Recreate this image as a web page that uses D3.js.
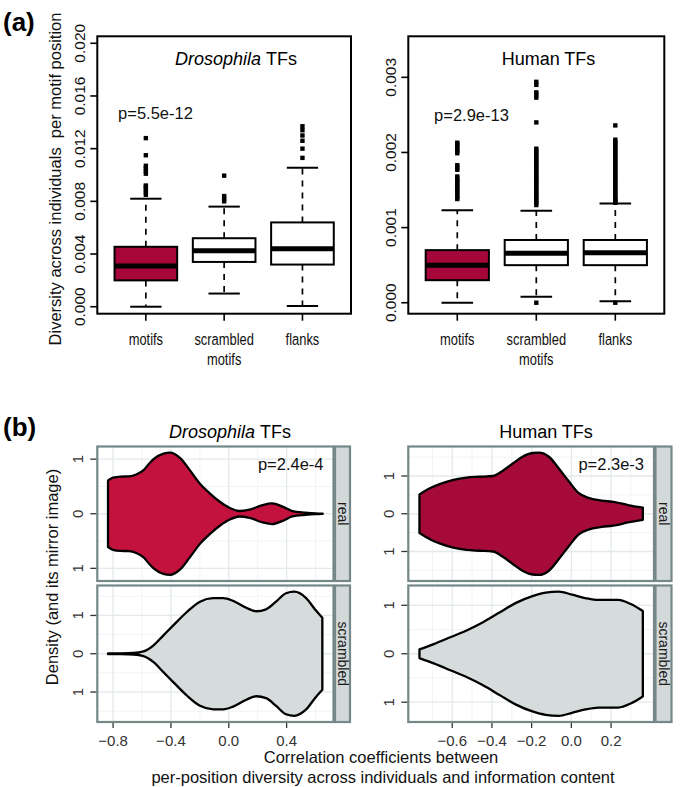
<!DOCTYPE html>
<html><head><meta charset="utf-8">
<script src="https://cdn.jsdelivr.net/npm/d3@7"></script>
<style>body{margin:0;background:#fff}</style>
</head><body>
<svg id="c" width="685" height="787"></svg>
<script>
// ---------------- DATA ----------------
// (a) boxplots
const boxCategories = [["motifs"], ["scrambled", "motifs"], ["flanks"]];
const drosYTicks = [0, 0.004, 0.008, 0.012, 0.016, 0.020];
const drosYTickLabels = ["0.000", "0.004", "0.008", "0.012", "0.016", "0.020"];
const humYTicks = [0, 0.001, 0.002, 0.003];
const humYTickLabels = ["0.000", "0.001", "0.002", "0.003"];

const drosLow = [0.0000, 0.0010, 0.00005];
const drosQ1 = [0.0020, 0.0034, 0.0032];
const drosMedian = [0.0031, 0.00425, 0.0044];
const drosQ3 = [0.00455, 0.0052, 0.0064];
const drosHigh = [0.0082, 0.0076, 0.01055];
const drosOutliers = [
  [0.0085, 0.0087, 0.0089, 0.0091, 0.0092, 0.0101, 0.0103, 0.0105, 0.0107, 0.0115, 0.0128],
  [0.0080, 0.0082, 0.0084, 0.00995],
  [0.0113, 0.0120, 0.0126, 0.0130, 0.0134, 0.0137]
];

const humLow = [0.0000, 0.00008, 0.00002];
const humQ1 = [0.00030, 0.00050, 0.00050];
const humMedian = [0.00050, 0.00066, 0.000665];
const humQ3 = [0.00070, 0.000835, 0.000835];
const humHigh = [0.00123, 0.001225, 0.00132];
const humOutliers = [
  [0.00138, 0.00141, 0.00144, 0.00147, 0.00150, 0.00153, 0.00156, 0.00159, 0.00162, 0.00165, 0.00168,
   0.00177, 0.00180, 0.00183, 0.00199, 0.00202, 0.00205, 0.00208, 0.00211, 0.00213],
  [0.00000, 0.00130, 0.00133, 0.00136, 0.00139, 0.00142, 0.00145, 0.00148, 0.00151, 0.00154, 0.00157,
   0.00160, 0.00163, 0.00166, 0.00169, 0.00172, 0.00175, 0.00178, 0.00181, 0.00184, 0.00187,
   0.00190, 0.00193, 0.00196, 0.00199, 0.00202, 0.00205, 0.00240, 0.00273, 0.00277, 0.00280,
   0.00290, 0.00294],
  [0.00000, 0.00133, 0.00135, 0.00137, 0.00139, 0.00142, 0.00145, 0.00148, 0.00151, 0.00154, 0.00157,
   0.00160, 0.00163, 0.00166, 0.00169, 0.00172, 0.00175, 0.00178, 0.00181, 0.00184, 0.00187,
   0.00190, 0.00193, 0.00196, 0.00199, 0.00202, 0.00205, 0.00208, 0.00211, 0.00214, 0.00217,
   0.00236]
];

// (b) mirrored densities
const drosRealX = [-0.835, -0.80, -0.748, -0.69, -0.64, -0.589, -0.55, -0.52, -0.452, -0.406, -0.336, -0.267,
  -0.199, -0.13, -0.062, 0.007, 0.075, 0.144, 0.235, 0.30, 0.372, 0.44, 0.53, 0.60, 0.65];
const drosRealD = [0.61, 0.66, 0.68, 0.685, 0.72, 0.80, 0.92, 1.0, 1.10, 1.12, 1.02, 0.79,
  0.55, 0.37, 0.22, 0.105, 0.05, 0.075, 0.16, 0.19, 0.13, 0.05, 0.02, 0.005, 0.0];

const drosScrX = [-0.835, -0.75, -0.658, -0.59, -0.52, -0.452, -0.384, -0.29, -0.199, -0.108, -0.039, 0.03,
  0.121, 0.19, 0.258, 0.327, 0.396, 0.453, 0.533, 0.60, 0.647];
const drosScrD = [0.01, 0.012, 0.02, 0.06, 0.22, 0.48, 0.74, 1.09, 1.36, 1.45, 1.45, 1.38,
  1.2, 1.11, 1.16, 1.36, 1.58, 1.62, 1.46, 1.14, 0.94];

const humRealX = [-0.765, -0.71, -0.66, -0.594, -0.528, -0.462, -0.395, -0.345, -0.295, -0.246, -0.196,
  -0.163, -0.113, -0.063, -0.013, 0.036, 0.086, 0.152, 0.219, 0.285, 0.36];
const humRealD = [0.51, 0.68, 0.79, 0.90, 0.96, 0.98, 1.0, 1.14, 1.33, 1.51, 1.61,
  1.62, 1.51, 1.20, 0.86, 0.55, 0.42, 0.35, 0.31, 0.23, 0.16];

const humScrX = [-0.765, -0.693, -0.61, -0.528, -0.445, -0.362, -0.279, -0.196, -0.13, -0.063, 0.003,
  0.07, 0.136, 0.236, 0.302, 0.36];
const humScrD = [0.09, 0.2, 0.34, 0.48, 0.65, 0.85, 1.05, 1.19, 1.26, 1.28, 1.22,
  1.15, 1.11, 1.11, 1.02, 0.88];

const drosXTicks = [-0.8, -0.4, 0.0, 0.4];
const drosXTickLabels = ["\u22120.8", "\u22120.4", "0.0", "0.4"];
const drosXMinor = [-0.6, -0.2, 0.2, 0.6];
const humXTicks = [-0.6, -0.4, -0.2, 0.0, 0.2];
const humXTickLabels = ["\u22120.6", "\u22120.4", "\u22120.2", "0.0", "0.2"];
const humXMinor = [-0.7, -0.5, -0.3, -0.1, 0.1, 0.3];
const densYTicks = [-1, 0, 1];
const densYTickLabels = ["1", "0", "1"];
const densYMinor = [-1.5, -0.5, 0.5, 1.5];
const stripLabels = ["real", "scrambled"];

// ---------------- DRAWING ----------------
const svg = d3.select("#c");
const F = "'Liberation Sans', Arial, Helvetica, sans-serif";

function txt(g, x, y, s, size, opts = {}) {
  const t = g.append("text")
    .attr("transform", `translate(${x},${y})` + (opts.rot ? ` rotate(${opts.rot})` : "") + (opts.sx ? ` scale(${opts.sx},1)` : ""))
    .attr("font-family", F).attr("font-size", size)
    .attr("text-anchor", opts.anchor || "middle")
    .attr("fill", opts.fill || "#000");
  if (opts.dy) t.attr("dy", opts.dy);
  if (opts.bold) t.attr("font-weight", "bold");
  t.text(s);
  return t;
}

function boxPanel(o) {
  const g = svg.append("g");
  const x = d3.scaleLinear().domain([0.38, 3.62]).range([o.x0, o.x1]);
  const y = d3.scaleLinear().domain(o.yDomain).range([o.y1, o.y0]);
  const bw = 0.8 * (x(2) - x(1));
  o.low.forEach((lo, i) => {
    const cx = x(i + 1);
    g.append("line").attr("x1", cx).attr("x2", cx).attr("y1", y(o.q3[i])).attr("y2", y(o.high[i]))
      .attr("stroke", "#000").attr("stroke-width", 1.7).attr("stroke-dasharray", "6,6");
    g.append("line").attr("x1", cx).attr("x2", cx).attr("y1", y(o.q1[i])).attr("y2", y(lo))
      .attr("stroke", "#000").attr("stroke-width", 1.7).attr("stroke-dasharray", "6,6");
    [o.high[i], lo].forEach(v => {
      g.append("line").attr("x1", cx - bw / 4).attr("x2", cx + bw / 4).attr("y1", y(v)).attr("y2", y(v))
        .attr("stroke", "#000").attr("stroke-width", 2);
    });
    g.append("rect").attr("x", cx - bw / 2).attr("width", bw)
      .attr("y", y(o.q3[i])).attr("height", y(o.q1[i]) - y(o.q3[i]))
      .attr("fill", i === 0 ? "#a6063a" : "#fff").attr("stroke", "#000").attr("stroke-width", 2);
    g.append("line").attr("x1", cx - bw / 2).attr("x2", cx + bw / 2).attr("y1", y(o.median[i])).attr("y2", y(o.median[i]))
      .attr("stroke", "#000").attr("stroke-width", 5);
    g.selectAll(null).data(o.outliers[i]).enter().append("rect")
      .attr("x", cx - 2.2).attr("y", d => y(d) - 2.2).attr("width", 4.4).attr("height", 4.4).attr("fill", "#000");
  });
  g.append("rect").attr("x", o.x0).attr("y", o.y0).attr("width", o.x1 - o.x0).attr("height", o.y1 - o.y0)
    .attr("fill", "none").attr("stroke", "#000").attr("stroke-width", 2);
  o.yTicks.forEach((v, k) => {
    g.append("line").attr("x1", o.x0 - 7).attr("x2", o.x0).attr("y1", y(v)).attr("y2", y(v))
      .attr("stroke", "#000").attr("stroke-width", 1.6);
    txt(g, o.x0 - 18, y(v), o.yLabels[k], 15.5, { rot: -90, dy: "0.35em", fill: "#111" });
  });
  boxCategories.forEach((lines, i) => {
    const cx = x(i + 1);
    g.append("line").attr("x1", cx).attr("x2", cx).attr("y1", o.y1).attr("y2", o.y1 + 7)
      .attr("stroke", "#000").attr("stroke-width", 1.6);
    lines.forEach((s, k) => txt(g, cx, 345 + 20 * k, s, 17, { sx: 0.76, fill: "#111" }));
  });
  const t = g.append("text").attr("x", o.titleX).attr("y", 65).attr("font-family", F).attr("font-size", 18)
    .attr("text-anchor", "middle");
  if (o.titleItalic) t.append("tspan").attr("font-style", "italic").text(o.titleItalic + " ");
  t.append("tspan").text(o.titleRest);
  txt(g, o.pX, o.pY, o.pText, 16.5, { fill: "#111" });
}

boxPanel({
  x0: 97.3, x1: 351, y0: 36.3, y1: 313.7, yDomain: [-0.00053, 0.02053],
  yTicks: drosYTicks, yLabels: drosYTickLabels,
  low: drosLow, q1: drosQ1, median: drosMedian, q3: drosQ3, high: drosHigh, outliers: drosOutliers,
  titleItalic: "Drosophila", titleRest: "TFs", titleX: 236,
  pText: "p=5.5e-12", pX: 155.5, pY: 118.5
});
boxPanel({
  x0: 408.3, x1: 664.3, y0: 36.3, y1: 313.7, yDomain: [-0.000146, 0.003546],
  yTicks: humYTicks, yLabels: humYTickLabels,
  low: humLow, q1: humQ1, median: humMedian, q3: humQ3, high: humHigh, outliers: humOutliers,
  titleItalic: null, titleRest: "Human TFs", titleX: 548.5,
  pText: "p=2.9e-13", pX: 471.5, pY: 121
});

const ga = svg.append("g");
txt(ga, 3, 31, "(a)", 26, { anchor: "start", bold: true });
txt(ga, 55, 179, "Diversity across individuals\u00a0 per motif position", 16.5, { rot: -90, dy: "0.35em", fill: "#111" });

// ---------------- (b) ----------------
const BORDER = "#758787", STRIP = "#d3d9d9", MAJ = "#e4e9e9", MIN = "#f1f4f4";
const rowsY = [{ y0: 446.5, y1: 581 }, { y0: 585.5, y1: 722 }];

function violinColumn(c) {
  const g = svg.append("g");
  const allX = c.xs[0].concat(c.xs[1]);
  const ext = d3.extent(allX), pad = (ext[1] - ext[0]) * 0.05;
  const x = d3.scaleLinear().domain([ext[0] - pad, ext[1] + pad]).range([c.x0, c.x1]);
  [0, 1].forEach(r => {
    const p = rowsY[r];
    const m = d3.max(c.ds[r]) * 1.1;
    const y = d3.scaleLinear().domain([-m, m]).range([p.y1, p.y0]);
    g.append("rect").attr("x", c.x0).attr("y", p.y0).attr("width", c.x1 - c.x0).attr("height", p.y1 - p.y0).attr("fill", "#fff");
    c.xMinor.filter(v => v > x.domain()[0] && v < x.domain()[1]).forEach(v =>
      g.append("line").attr("x1", x(v)).attr("x2", x(v)).attr("y1", p.y0).attr("y2", p.y1).attr("stroke", MIN).attr("stroke-width", 1));
    densYMinor.filter(v => v > -m && v < m).forEach(v =>
      g.append("line").attr("x1", c.x0).attr("x2", c.x1).attr("y1", y(v)).attr("y2", y(v)).attr("stroke", MIN).attr("stroke-width", 1));
    c.xTicks.forEach(v =>
      g.append("line").attr("x1", x(v)).attr("x2", x(v)).attr("y1", p.y0).attr("y2", p.y1).attr("stroke", MAJ).attr("stroke-width", 1.3));
    densYTicks.forEach(v =>
      g.append("line").attr("x1", c.x0).attr("x2", c.x1).attr("y1", y(v)).attr("y2", y(v)).attr("stroke", MAJ).attr("stroke-width", 1.3));
    const area = d3.area().x(d => x(d[0])).y0(d => y(-d[1])).y1(d => y(d[1])).curve(d3.curveMonotoneX);
    g.append("path").datum(d3.zip(c.xs[r], c.ds[r])).attr("d", area)
      .attr("fill", c.fills[r]).attr("stroke", "#000").attr("stroke-width", 2.3).attr("stroke-linejoin", "round");
    g.append("rect").attr("x", c.x0).attr("y", p.y0).attr("width", c.x1 - c.x0).attr("height", p.y1 - p.y0)
      .attr("fill", "none").attr("stroke", BORDER).attr("stroke-width", 2.2);
    g.append("rect").attr("x", c.x1 + 1.5).attr("y", p.y0).attr("width", c.sx1 - c.x1 - 1.5).attr("height", p.y1 - p.y0)
      .attr("fill", STRIP).attr("stroke", BORDER).attr("stroke-width", 2.2);
    txt(g, (c.x1 + 1.5 + c.sx1) / 2, (p.y0 + p.y1) / 2, stripLabels[r], 14, { rot: 90, dy: "0.35em", fill: "#1a1a1a" });
    densYTicks.forEach((v, k) => {
      g.append("line").attr("x1", c.x0 - 7).attr("x2", c.x0 - 1).attr("y1", y(v)).attr("y2", y(v))
        .attr("stroke", "#333").attr("stroke-width", 1.3);
      txt(g, c.x0 - 20, y(v), densYTickLabels[k], 15, { rot: -90, dy: "0.35em", fill: "#333" });
    });
    if (r === 0) txt(g, c.pX, 470, c.pText, 16.5, { anchor: "end", fill: "#111" });
  });
  const yb = rowsY[1].y1;
  c.xTicks.forEach((v, k) => {
    g.append("line").attr("x1", x(v)).attr("x2", x(v)).attr("y1", yb + 1).attr("y2", yb + 6)
      .attr("stroke", "#333").attr("stroke-width", 1.3);
    txt(g, x(v), 746, c.xTickLabels[k], 15, { fill: "#333" });
  });
  const t = g.append("text").attr("x", c.titleX).attr("y", 437.5).attr("font-family", F).attr("font-size", 18)
    .attr("text-anchor", "middle");
  if (c.titleItalic) t.append("tspan").attr("font-style", "italic").text(c.titleItalic + " ");
  t.append("tspan").text(c.titleRest);
}

violinColumn({
  x0: 97.3, x1: 333.5, sx1: 350,
  xs: [drosRealX, drosScrX], ds: [drosRealD, drosScrD], fills: ["#c4123e", "#d6dcdc"],
  xTicks: drosXTicks, xTickLabels: drosXTickLabels, xMinor: drosXMinor,
  pText: "p=2.4e-4", pX: 323.5, titleItalic: "Drosophila", titleRest: "TFs", titleX: 230
});
violinColumn({
  x0: 408.3, x1: 654, sx1: 671.5,
  xs: [humRealX, humScrX], ds: [humRealD, humScrD], fills: ["#a50a38", "#d6dcdc"],
  xTicks: humXTicks, xTickLabels: humXTickLabels, xMinor: humXMinor,
  pText: "p=2.3e-3", pX: 644, titleItalic: null, titleRest: "Human TFs", titleX: 546
});

const gb = svg.append("g");
txt(gb, 3, 436, "(b)", 26, { anchor: "start", bold: true });
txt(gb, 52, 577, "Density (and its mirror image)", 16.5, { rot: -90, dy: "0.35em", fill: "#111" });
txt(gb, 381, 763, "Correlation coefficients between", 16.5, { fill: "#111" });
txt(gb, 383, 783, "per-position diversity across individuals and information content", 16.5, { fill: "#111" });
</script>
</body></html>
